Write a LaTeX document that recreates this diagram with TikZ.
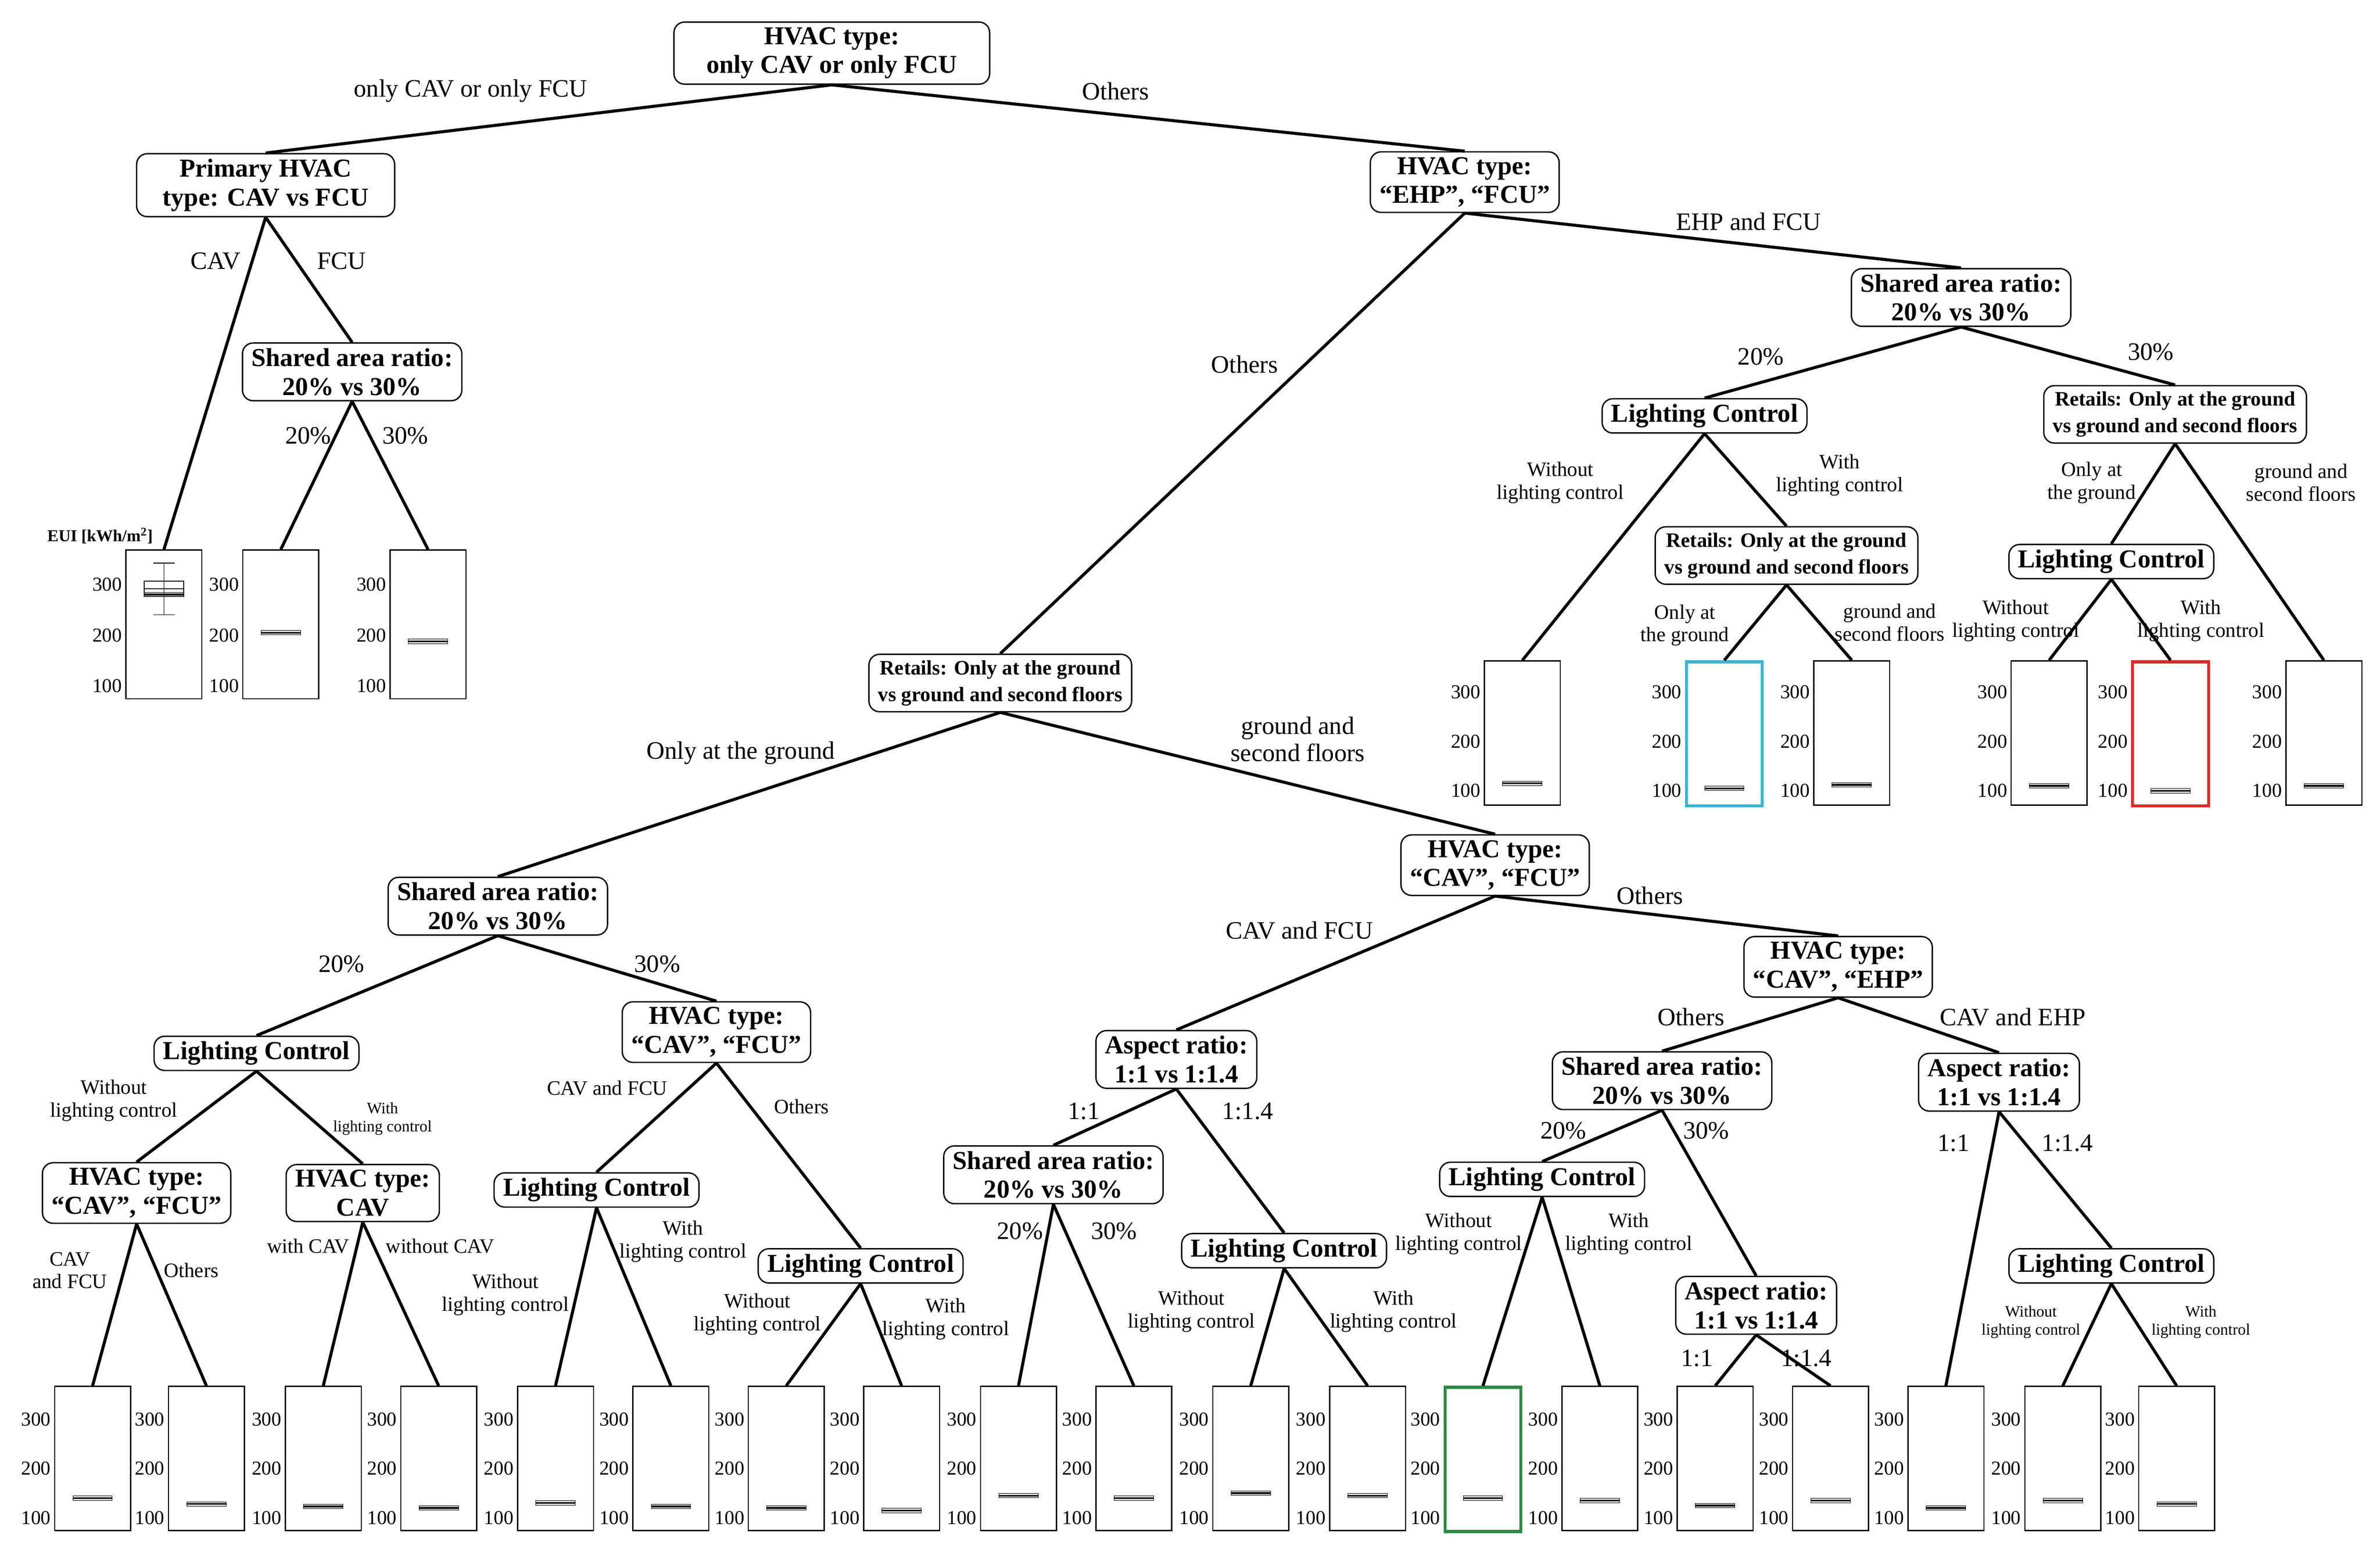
\documentclass[tikz,border=0pt]{standalone}
\usepackage{fontspec}
\setmainfont{Liberation Serif}
\begin{document}
\begin{tikzpicture}[x=1pt,y=-1pt,
 dec/.style={draw,rounded corners=7pt,font=\bfseries\fontsize{17}{19}\selectfont,align=center,inner xsep=6pt,inner ysep=3.5pt,line width=0.9pt,fill=white},
 ret/.style={dec,font=\bfseries\fontsize{13.5}{17.5}\selectfont,inner xsep=6pt,inner ysep=4pt},
 lab/.style={font=\fontsize{16.5}{18}\selectfont,align=center,inner sep=1pt},
 slab/.style={font=\fontsize{13.5}{15}\selectfont,align=center,inner sep=1pt},
 tlab/.style={font=\fontsize{10.5}{12}\selectfont,align=center,inner sep=1pt},
 tick/.style={font=\fontsize{13}{14}\selectfont,inner sep=1pt,anchor=east},
 edge/.style={line width=2pt},
 pbox/.style={draw,line width=0.8pt,minimum width=50pt,minimum height=#1,inner sep=0pt}]
\useasboundingbox (0,0) rectangle (1568,1025);
\newcommand\bp[8]{%
 \node[pbox=#4,anchor=north,#8] (#1) at (#2,#3) {};
 \node[tick] (#1a) at ([xshift=-1pt]#1.west |- 0,#5) {300};
 \node[tick] (#1b) at ([xshift=-1pt]#1.west |- 0,{(#5+#6)/2}) {200};
 \node[tick] (#1c) at ([xshift=-1pt]#1.west |- 0,#6) {100};
 \pgfmathsetmacro\my{#6-(#7-100)*(#6-#5)/200}
 \draw[line width=0.3pt,fill=gray!25] (#2-13,\my-1.5) rectangle (#2+13,\my+1.5);
 \draw[line width=1pt] (#2-13,\my) -- (#2+13,\my);
}
\node[dec,minimum width=208pt] (root) at (548,35) {HVAC type:\\only CAV or only FCU};
\node[dec,minimum width=170pt] (A) at (175,122) {Primary HVAC\\type: CAV vs FCU};
\node[dec] (B) at (965,120) {HVAC type:\\“EHP”, “FCU”};
\node[dec] (C) at (232,245) {Shared area ratio:\\20\% vs 30\%};
\node[dec] (D) at (1292,196) {Shared area ratio:\\20\% vs 30\%};
\node[ret] (E) at (659,450) {Retails: Only at the ground\\vs ground and second floors};
\node[dec] (F) at (1123,274) {Lighting Control};
\node[ret] (G) at (1433,273) {Retails: Only at the ground\\vs ground and second floors};
\node[ret] (H) at (1177,366) {Retails: Only at the ground\\vs ground and second floors};
\node[dec] (I) at (1391,370) {Lighting Control};
\node[dec] (J) at (328,597) {Shared area ratio:\\20\% vs 30\%};
\node[dec] (K) at (985,570) {HVAC type:\\“CAV”, “FCU”};
\node[dec] (L) at (169,694) {Lighting Control};
\node[dec] (M) at (472,680) {HVAC type:\\“CAV”, “FCU”};
\node[dec] (N) at (90,786) {HVAC type:\\“CAV”, “FCU”};
\node[dec] (O) at (239,786) {HVAC type:\\CAV};
\node[dec] (P) at (393,784) {Lighting Control};
\node[dec] (Q) at (567,834) {Lighting Control};
\node[dec] (R) at (775,698) {Aspect ratio:\\1:1 vs 1:1.4};
\node[dec] (S) at (1211,637) {HVAC type:\\“CAV”, “EHP”};
\node[dec] (T) at (694,774) {Shared area ratio:\\20\% vs 30\%};
\node[dec] (U) at (846,824) {Lighting Control};
\node[dec] (V) at (1095,712) {Shared area ratio:\\20\% vs 30\%};
\node[dec] (W) at (1317,713) {Aspect ratio:\\1:1 vs 1:1.4};
\node[dec] (X) at (1016,777) {Lighting Control};
\node[dec] (Y) at (1157,860) {Aspect ratio:\\1:1 vs 1:1.4};
\node[dec] (Z) at (1391,834) {Lighting Control};
\bp{q1}{108}{362}{98}{385}{452}{280}{}
\draw[line width=0.4pt] (q1.north |- 0,371) -- (q1.north |- 0,405) (101,371)--(115,371) (101,405)--(115,405);
\draw[line width=0.6pt] (95,383) rectangle (121,393) (95,388)--(121,388);
\bp{q2}{185}{362}{98}{385}{452}{205}{}
\bp{q3}{282}{362}{98}{385}{452}{188}{}
\node[font=\bfseries\fontsize{11}{12}\selectfont,inner sep=0pt] (eui) at (66,353) {EUI [kWh/m$^{\mathbf 2}$]};
\bp{r1}{1003}{435}{95}{456}{521}{115}{}
\bp{r2}{1136}{435}{95}{456}{521}{105}{draw={rgb,255:red,60;green,180;blue,210},line width=2pt}
\bp{r3}{1220}{435}{95}{456}{521}{112}{}
\bp{r4}{1350}{435}{95}{456}{521}{110}{}
\bp{r5}{1430}{435}{95}{456}{521}{100}{draw={rgb,255:red,225;green,40;blue,40},line width=2pt}
\bp{r6}{1531}{435}{95}{456}{521}{110}{}
\bp{p1}{61}{913}{95}{935}{1000}{140}{}
\bp{p2}{136}{913}{95}{935}{1000}{128}{}
\bp{p3}{213}{913}{95}{935}{1000}{123}{}
\bp{p4}{289}{913}{95}{935}{1000}{120}{}
\bp{p5}{366}{913}{95}{935}{1000}{130}{}
\bp{p6}{442}{913}{95}{935}{1000}{123}{}
\bp{p7}{518}{913}{95}{935}{1000}{120}{}
\bp{p8}{594}{913}{95}{935}{1000}{115}{}
\bp{p9}{671}{913}{95}{935}{1000}{145}{}
\bp{p10}{747}{913}{95}{935}{1000}{140}{}
\bp{p11}{824}{913}{95}{935}{1000}{150}{}
\bp{p12}{901}{913}{95}{935}{1000}{145}{}
\bp{p13}{977}{913}{95}{935}{1000}{140}{draw={rgb,255:red,40;green,140;blue,60},line width=2pt}
\bp{p14}{1054}{913}{95}{935}{1000}{135}{}
\bp{p15}{1130}{913}{95}{935}{1000}{125}{}
\bp{p16}{1206}{913}{95}{935}{1000}{135}{}
\bp{p17}{1282}{913}{95}{935}{1000}{120}{}
\bp{p18}{1359}{913}{95}{935}{1000}{135}{}
\bp{p19}{1434}{913}{95}{935}{1000}{128}{}
\draw[edge] (root.south) -- (A.north);
\draw[edge] (root.south) -- (B.north);
\draw[edge] (A.south) -- (q1.north);
\draw[edge] (A.south) -- (C.north);
\draw[edge] (C.south) -- (q2.north);
\draw[edge] (C.south) -- (q3.north);
\draw[edge] (B.south) -- (D.north);
\draw[edge] (B.south) -- (E.north);
\draw[edge] (D.south) -- (F.north);
\draw[edge] (D.south) -- (G.north);
\draw[edge] (F.south) -- (r1.north);
\draw[edge] (F.south) -- (H.north);
\draw[edge] (H.south) -- (r2.north);
\draw[edge] (H.south) -- (r3.north);
\draw[edge] (G.south) -- (I.north);
\draw[edge] (G.south) -- (r6.north);
\draw[edge] (I.south) -- (r4.north);
\draw[edge] (I.south) -- (r5.north);
\draw[edge] (E.south) -- (J.north);
\draw[edge] (E.south) -- (K.north);
\draw[edge] (J.south) -- (L.north);
\draw[edge] (J.south) -- (M.north);
\draw[edge] (L.south) -- (N.north);
\draw[edge] (L.south) -- (O.north);
\draw[edge] (N.south) -- (p1.north);
\draw[edge] (N.south) -- (p2.north);
\draw[edge] (O.south) -- (p3.north);
\draw[edge] (O.south) -- (p4.north);
\draw[edge] (M.south) -- (P.north);
\draw[edge] (M.south) -- (Q.north);
\draw[edge] (P.south) -- (p5.north);
\draw[edge] (P.south) -- (p6.north);
\draw[edge] (Q.south) -- (p7.north);
\draw[edge] (Q.south) -- (p8.north);
\draw[edge] (K.south) -- (R.north);
\draw[edge] (K.south) -- (S.north);
\draw[edge] (R.south) -- (T.north);
\draw[edge] (R.south) -- (U.north);
\draw[edge] (T.south) -- (p9.north);
\draw[edge] (T.south) -- (p10.north);
\draw[edge] (U.south) -- (p11.north);
\draw[edge] (U.south) -- (p12.north);
\draw[edge] (S.south) -- (V.north);
\draw[edge] (S.south) -- (W.north);
\draw[edge] (V.south) -- (X.north);
\draw[edge] (V.south) -- (Y.north);
\draw[edge] (X.south) -- (p13.north);
\draw[edge] (X.south) -- (p14.north);
\draw[edge] (Y.south) -- (p15.north);
\draw[edge] (Y.south) -- (p16.north);
\draw[edge] (W.south) -- (p17.north);
\draw[edge] (W.south) -- (Z.north);
\draw[edge] (Z.south) -- (p18.north);
\draw[edge] (Z.south) -- (p19.north);
\node[lab] (l1) at (310,60) {only CAV or only FCU};
\node[lab] (l2) at (735,60) {Others};
\node[lab] (l3) at (142,172) {CAV};
\node[lab] (l4) at (225,172) {FCU};
\node[lab] (l5) at (203,287) {20\%};
\node[lab] (l6) at (267,287) {30\%};
\node[lab] (l7) at (1152,146) {EHP and FCU};
\node[lab] (l8) at (820,240) {Others};
\node[lab] (l9) at (1160,235) {20\%};
\node[lab] (l10) at (1417,232) {30\%};
\node[slab] (l11) at (1028,318) {Without\\lighting control};
\node[slab] (l12) at (1212,313) {With\\lighting control};
\node[slab] (l13) at (1110,412) {Only at\\the ground};
\node[slab] (l14) at (1245,410) {ground and\\second floors};
\node[slab] (l15) at (1378,318) {Only at\\the ground};
\node[slab] (l16) at (1516,318) {ground and\\second floors};
\node[slab] (l17) at (1328,409) {Without\\lighting control};
\node[slab] (l18) at (1450,409) {With\\lighting control};
\node[lab] (l19) at (488,496) {Only at the ground};
\node[lab] (l20) at (855,487) {ground and\\second floors};
\node[lab] (l21) at (225,635) {20\%};
\node[lab] (l22) at (433,635) {30\%};
\node[slab] (l23) at (75,725) {Without\\lighting control};
\node[tlab] (l24) at (252,737) {With\\lighting control};
\node[slab] (l25) at (46,837) {CAV\\and FCU};
\node[slab] (l26) at (126,837) {Others};
\node[slab] (l27) at (203,821) {with CAV};
\node[slab] (l28) at (290,821) {without CAV};
\node[slab] (l29) at (400,717) {CAV and FCU};
\node[slab] (l30) at (528,729) {Others};
\node[slab] (l31) at (450,818) {With\\lighting control};
\node[slab] (l32) at (333,853) {Without\\lighting control};
\node[slab] (l33) at (499,866) {Without\\lighting control};
\node[slab] (l34) at (623,869) {With\\lighting control};
\node[lab] (l35) at (856,613) {CAV and FCU};
\node[lab] (l36) at (1087,590) {Others};
\node[lab] (l37) at (714,732) {1:1};
\node[lab] (l38) at (822,732) {1:1.4};
\node[lab] (l39) at (672,811) {20\%};
\node[lab] (l40) at (734,811) {30\%};
\node[slab] (l41) at (785,864) {Without\\lighting control};
\node[slab] (l42) at (918,864) {With\\lighting control};
\node[lab] (l43) at (1114,670) {Others};
\node[lab] (l44) at (1326,670) {CAV and EHP};
\node[lab] (l45) at (1030,745) {20\%};
\node[lab] (l46) at (1124,745) {30\%};
\node[slab] (l47) at (961,813) {Without\\lighting control};
\node[slab] (l48) at (1073,813) {With\\lighting control};
\node[lab] (l49) at (1118,895) {1:1};
\node[lab] (l50) at (1190,895) {1:1.4};
\node[lab] (l51) at (1287,753) {1:1};
\node[lab] (l52) at (1362,753) {1:1.4};
\node[tlab] (l53) at (1338,871) {Without\\lighting control};
\node[tlab] (l54) at (1450,871) {With\\lighting control};
\end{tikzpicture}
\end{document}
